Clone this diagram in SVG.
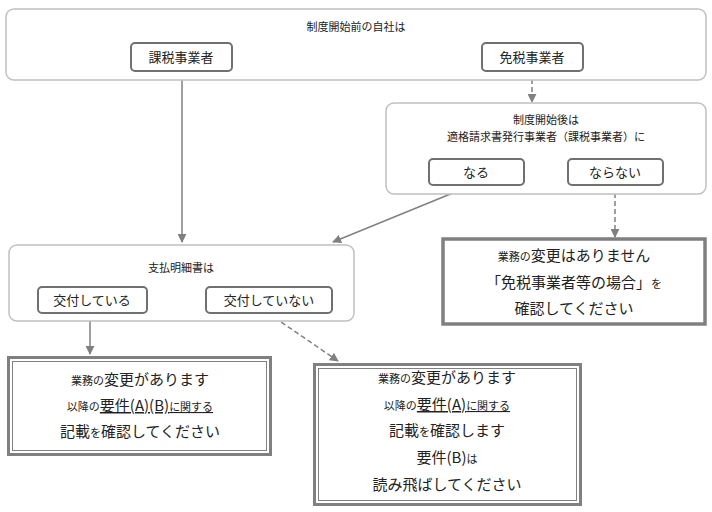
<svg xmlns="http://www.w3.org/2000/svg" width="712" height="512" viewBox="0 0 712 512">
<style>
text{font-family:"Noto Sans CJK JP","Noto Sans",sans-serif;fill:#222;text-anchor:middle}
.s{font-size:11px}.m{font-size:13px}.l{font-size:15px}
.grp{fill:#fff;stroke:#c0c0c0;stroke-width:1.5}
.btn{fill:#fff;stroke:#707070;stroke-width:2}
.ln{stroke:#808080;stroke-width:1.5;fill:none}
.dl{stroke:#808080;stroke-width:1.5;fill:none;stroke-dasharray:5,3}
.res{fill:#fff;stroke:#808080}
</style>
<defs><marker id="a" viewBox="0 0 10 10" refX="9" refY="5" markerWidth="6" markerHeight="6" orient="auto"><path d="M0,0L10,5L0,10z" fill="#808080"/></marker></defs>
<g id="connectors">
<path class="ln" d="M182,71V242" marker-end="url(#a)"/>
<path class="dl" d="M532,71V102" marker-end="url(#a)"/>
<path class="ln" d="M470,186L333,242" marker-end="url(#a)"/>
<path class="dl" d="M615,185V237" marker-end="url(#a)"/>
<path class="ln" d="M90,313V354" marker-end="url(#a)"/>
<path class="dl" d="M268,313L338,361" marker-end="url(#a)"/>
</g>
<g id="n1"><rect class="grp" x="6" y="9" width="700" height="71" rx="8"/><text class="s" x="356" y="31">制度開始前の自社は</text>
<rect class="btn" x="131" y="43" width="101" height="28" rx="4"/><text class="m" x="181" y="62">課税事業者</text>
<rect class="btn" x="482" y="43" width="101" height="28" rx="4"/><text class="m" x="532" y="62">免税事業者</text></g>
<g id="n2"><rect class="grp" x="386" y="103" width="320" height="91" rx="8"/><text class="s" x="546" y="124">制度開始後は</text><text class="s" x="546" y="141">適格請求書発行事業者（課税事業者）に</text>
<rect class="btn" x="429" y="159" width="95" height="26" rx="4"/><text class="m" x="476" y="177">なる</text>
<rect class="btn" x="568" y="159" width="95" height="26" rx="4"/><text class="m" x="615" y="177">ならない</text></g>
<g id="n3"><rect class="grp" x="9" y="245" width="345" height="76" rx="8"/><text class="s" x="181" y="272">支払明細書は</text>
<rect class="btn" x="38" y="287" width="109" height="26" rx="4"/><text class="m" x="92" y="305">交付している</text>
<rect class="btn" x="206" y="287" width="126" height="26" rx="4"/><text class="m" x="269" y="305">交付していない</text></g>
<g id="n4"><rect class="res" stroke-width="3.5" x="443" y="239" width="262" height="85"/>
<text x="574" y="261"><tspan class="s">業務の</tspan><tspan class="l">変更はありません</tspan></text>
<text x="574" y="288"><tspan class="l">「免税事業者等の場合」</tspan><tspan class="s">を</tspan></text>
<text class="l" x="574" y="314">確認してください</text></g>
<g id="n5"><rect class="res" stroke-width="3" x="8.5" y="357.5" width="262" height="97"/><rect class="res" stroke-width="1" x="12.5" y="361.5" width="254" height="89"/>
<text x="140" y="385"><tspan class="s">業務の</tspan><tspan class="l">変更があります</tspan></text>
<text x="140" y="411"><tspan class="s">以降の</tspan><tspan class="l" text-decoration="underline">要件(A)(B)</tspan><tspan class="s" text-decoration="underline">に関する</tspan></text>
<text x="140" y="437"><tspan class="l">記載</tspan><tspan class="s">を</tspan><tspan class="l">確認してください</tspan></text></g>
<g id="n6"><rect class="res" stroke-width="3" x="314.5" y="364.5" width="266" height="140"/><rect class="res" stroke-width="1" x="318.5" y="368.5" width="258" height="132"/>
<text x="447" y="383"><tspan class="s">業務の</tspan><tspan class="l">変更があります</tspan></text>
<text x="447" y="410"><tspan class="s">以降の</tspan><tspan class="l" text-decoration="underline">要件(A)</tspan><tspan class="s" text-decoration="underline">に関する</tspan></text>
<text x="447" y="436"><tspan class="l">記載</tspan><tspan class="s">を</tspan><tspan class="l">確認します</tspan></text>
<text x="447" y="463"><tspan class="l">要件(B)</tspan><tspan class="s">は</tspan></text>
<text class="l" x="447" y="490">読み飛ばしてください</text></g>
</svg>
